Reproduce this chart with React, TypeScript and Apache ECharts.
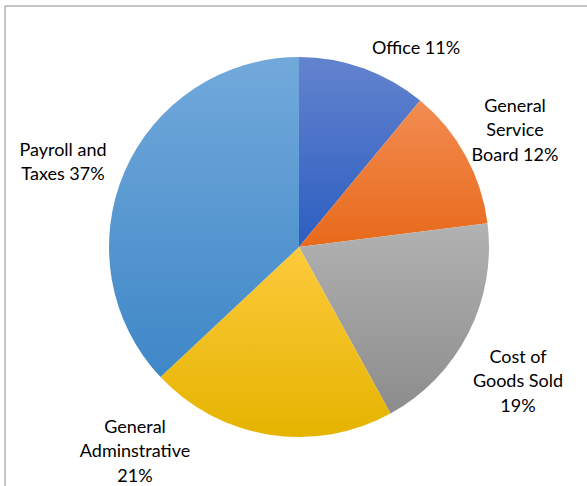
import React, { useEffect, useRef } from "react";
import * as echarts from "echarts";

const categories = [
  "Office",
  "General\nService\nBoard",
  "Cost of\nGoods Sold\n",
  "General\nAdminstrative\n",
  "Payroll and\nTaxes",
];
const values = [11, 12, 19, 21, 37];

const gradientTop = ["#6383CE", "#F28C52", "#B2B2B2", "#FDCA3C", "#72A9DB"];
const gradientBottom = ["#2C5EC1", "#E8691A", "#8C8C8C", "#E5B400", "#3E87C7"];
const labelCenters: [number, number][] = [
  [416, 47],
  [515, 129],
  [518, 380],
  [135, 450],
  [63, 161],
];

export default function App() {
  const ref = useRef<HTMLDivElement>(null);
  useEffect(() => {
    document.body.style.margin = "0";
    const chart = echarts.init(ref.current!, null, { renderer: "svg" });
    const data = categories.map((c, i) => ({
      name: c,
      value: values[i],
      itemStyle: {
        color: new echarts.graphic.LinearGradient(0, 0, 0, 1, [
          { offset: 0, color: gradientTop[i] },
          { offset: 1, color: gradientBottom[i] },
        ]),
      },
    }));
    chart.setOption({
      animation: false,
      backgroundColor: "#ffffff",
      graphic: [
        { type: "line", shape: { x1: 5, y1: 6, x2: 587, y2: 6 }, style: { stroke: "#8a8a8a", lineWidth: 1 } },
        { type: "line", shape: { x1: 5, y1: 6, x2: 5, y2: 486 }, style: { stroke: "#8a8a8a", lineWidth: 1 } },
      ],
      series: [
        {
          type: "pie",
          center: [299, 247],
          radius: 190,
          startAngle: 90,
          clockwise: true,
          data,
          label: {
            show: true,
            formatter: (p: any) => {
              const n: string = p.name;
              return n.endsWith("\n") ? n + p.value + "%" : n + " " + p.value + "%";
            },
            fontFamily: "Lato",
            fontSize: 18,
            lineHeight: 24.5,
            color: "#000000",
            align: "center",
            overflow: "none",
            width: 200,
          },
          labelLine: { show: false },
          labelLayout: (params: any) => ({
            x: labelCenters[params.dataIndex][0],
            y: labelCenters[params.dataIndex][1],
            align: "center",
            verticalAlign: "middle",
          }),
          emphasis: { disabled: true },
        },
      ],
    });
    return () => chart.dispose();
  }, []);
  return <div ref={ref} style={{ width: 587, height: 486 }} />;
}
